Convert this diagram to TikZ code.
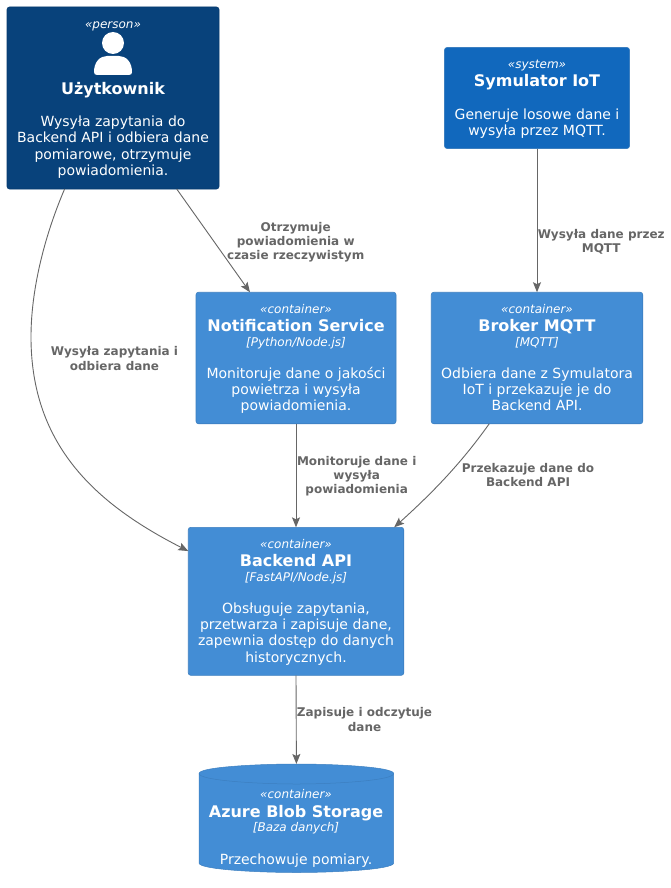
\documentclass[tikz,border=0pt]{standalone}
\usepackage{fontspec}
\setmainfont{DejaVu Sans}
\usetikzlibrary{arrows.meta}
\tikzset{
  x=1pt,y=-1pt,
  boxshape/.style={rectangle,rounded corners=2.5pt,inner sep=0,outer sep=0,line width=0.6pt,anchor=center},
  personbox/.style={boxshape,fill=c4person,draw=c4personb},
  systembox/.style={boxshape,fill=c4system,draw=c4containerb},
  containerbox/.style={boxshape,fill=c4container,draw=c4containerb},
  txt/.style={inner sep=0,outer sep=0,text=white,align=center,anchor=base},
  stereo/.style={txt,font=\fontsize{12}{14}\selectfont\itshape},
  title/.style={txt,font=\fontsize{16}{19}\selectfont\bfseries},
  tech/.style={txt,font=\fontsize{12}{14}\selectfont\itshape},
  desc/.style={txt,font=\fontsize{14}{16.2}\selectfont,anchor=center},
  edgelabel/.style={inner sep=0,outer sep=0,text=c4line,align=center,anchor=center,font=\fontsize{12}{14.1}\selectfont\bfseries},
  rel/.style={draw=c4line,line width=0.9pt,-{Stealth[length=10pt,width=8pt,inset=2pt]}},
}
\definecolor{c4person}{HTML}{08427B}
\definecolor{c4personb}{HTML}{073B6F}
\definecolor{c4system}{HTML}{1168BD}
\definecolor{c4container}{HTML}{438DD5}
\definecolor{c4containerb}{HTML}{3C7FC0}
\definecolor{c4line}{HTML}{666666}
\begin{document}
\begin{tikzpicture}
\useasboundingbox (0,0) rectangle (671,888);
\fill[white] (0,0) rectangle (671,888);

% boxes
\node[personbox,minimum width=212pt,minimum height=182pt] (person) at (113,98) {};
\node[systembox,minimum width=185pt,minimum height=101pt] (sim) at (537,98) {};
\node[containerbox,minimum width=200pt,minimum height=131.5pt] (notif) at (296,358) {};
\node[containerbox,minimum width=211.5pt,minimum height=131.5pt] (broker) at (537,358) {};
\node[containerbox,minimum width=215.5pt,minimum height=148pt] (api) at (296,601.3) {};

% cylinder
\fill[c4container,draw=c4containerb,line width=0.5pt]
  (199,773.5) .. controls (199,767) and (258,764) .. (296.5,764)
  .. controls (335,764) and (393.7,767) .. (393.7,773.5)
  -- (393.7,863) .. controls (393.7,869.5) and (335,872.5) .. (296.5,872.5)
  .. controls (258,872.5) and (199,869.5) .. (199,863) -- cycle;
\draw[c4containerb,line width=0.5pt]
  (199,773.5) .. controls (199,780.5) and (258,784) .. (296.5,784)
  .. controls (335,784) and (393.7,780.5) .. (393.7,773.5);
\node[inner sep=0,outer sep=0,minimum width=195pt,minimum height=108.5pt] (store) at (296.4,818.2) {};

% person icon
\fill[white] (113,43) circle (11);
\fill[white] (94,72) .. controls (94,62) and (100,56) .. (107,56) -- (119,56)
  .. controls (126,56) and (132,62) .. (132,72)
  .. controls (132,74) and (131,75) .. (129,75) -- (97,75)
  .. controls (95,75) and (94,74) .. (94,72) -- cycle;

% person text
\node[stereo] (t1) at (113,28.3) {«person»};
\node[title] (t2) at (113,94.3) {Użytkownik};
\node[desc] (t3) at (113,147.2) {Wysyła zapytania do\\Backend API i odbiera dane\\pomiarowe, otrzymuje\\powiadomienia.};

% simulator text
\node[stereo] (t4) at (537,68.7) {«system»};
\node[title] (t5) at (537,86.3) {Symulator IoT};
\node[desc] (t6) at (537,123.7) {Generuje losowe dane i\\wysyła przez MQTT.};

% notification text
\node[stereo] (t7) at (296,313) {«container»};
\node[title] (t8) at (296,331.2) {Notification Service};
\node[tech] (t9) at (296,346) {[Python/Node.js]};
\node[desc] (t10) at (296,390.5) {Monitoruje dane o jakości\\powietrza i wysyła\\powiadomienia.};

% broker text
\node[stereo] (t11) at (537,313) {«container»};
\node[title] (t12) at (537,331.2) {Broker MQTT};
\node[tech] (t13) at (537,346) {[MQTT]};
\node[desc] (t14) at (537,389) {Odbiera dane z Symulatora\\IoT i przekazuje je do\\Backend API.};

% backend text
\node[stereo] (t15) at (296,548) {«container»};
\node[title] (t16) at (296,566.2) {Backend API};
\node[tech] (t17) at (296,581) {[FastAPI/Node.js]};
\node[desc] (t18) at (296,633.9) {Obsługuje zapytania,\\przetwarza i zapisuje dane,\\zapewnia dostęp do danych\\historycznych.};

% storage text
\node[stereo] (t19) at (296,798.3) {«container»};
\node[title] (t20) at (296,817.2) {Azure Blob Storage};
\node[tech] (t21) at (296,831.7) {[Baza danych]};
\node[txt,font=\fontsize{14}{16.2}\selectfont] (t22) at (296,864) {Przechowuje pomiary.};

% connectors
\draw[rel] (person.242) .. controls (47,230) and (31,285) .. (31,337)
  .. controls (31,447) and (98,505) .. (api.155);
\draw[rel] (person.305) -- (notif.125.5);
\draw[rel] (sim.south) -- (broker.north);
\draw[rel] (notif.south) -- (api.north);
\draw[rel] (broker.234.5) .. controls (460,465) and (430,495) .. (api.37.8);
\draw[rel] (api.south) -- (store.north);

% connector labels
\node[edgelabel] (l1) at (114.5,358.5) {Wysyła zapytania i\\odbiera dane};
\node[edgelabel] (l2) at (295.7,241.9) {Otrzymuje\\powiadomienia w\\czasie rzeczywistym};
\node[edgelabel] (l3) at (601.2,241.9) {Wysyła dane przez\\MQTT};
\node[edgelabel] (l4) at (356.7,476.5) {Monitoruje dane i\\wysyła\\powiadomienia};
\node[edgelabel] (l5) at (528,475.2) {Przekazuje dane do\\Backend API};
\node[edgelabel] (l6) at (364.5,719.5) {Zapisuje i odczytuje\\dane};
\end{tikzpicture}
\end{document}
